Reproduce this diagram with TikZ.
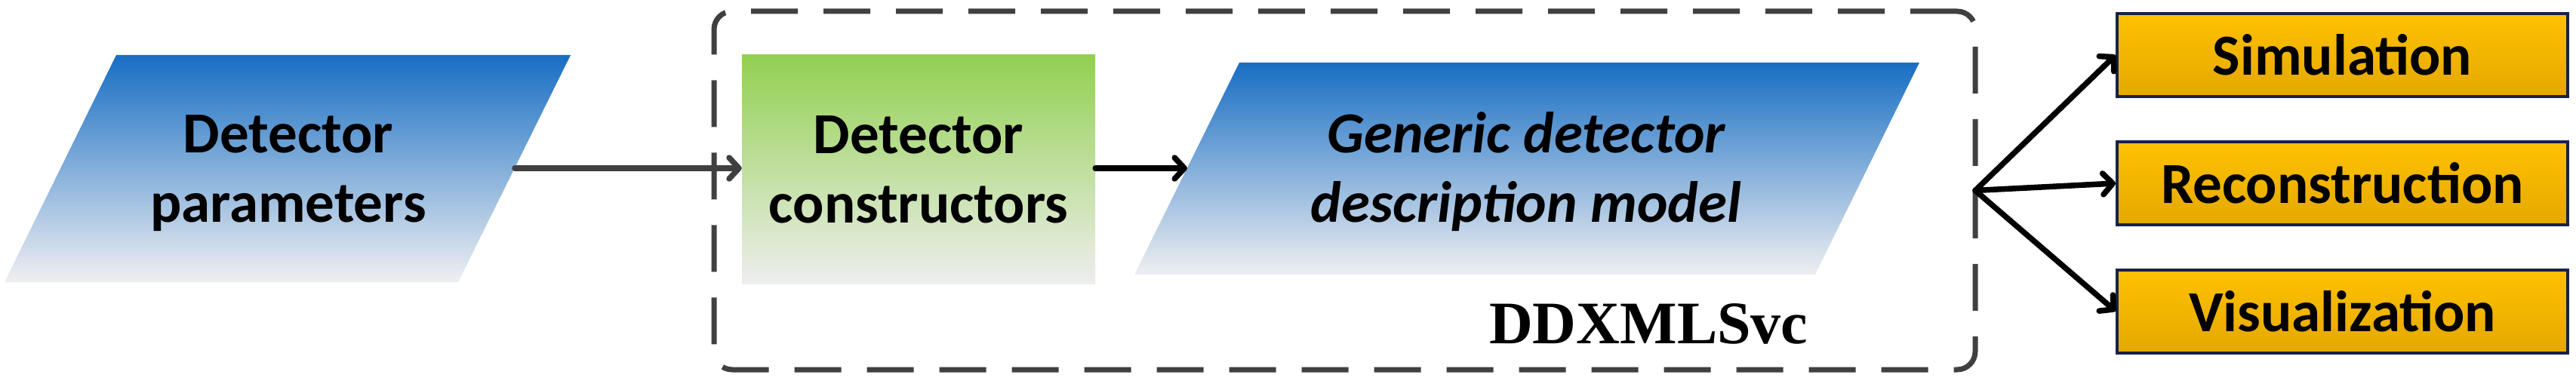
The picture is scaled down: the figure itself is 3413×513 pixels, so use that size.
\documentclass[tikz,border=0pt]{standalone}
\usepackage{fontspec}
\setmainfont{Carlito}
\newfontfamily\timesfont{Liberation Serif}
\usetikzlibrary{arrows.meta}
\definecolor{pblue}{RGB}{24,110,195}
\definecolor{pmid}{RGB}{148,165,208}
\definecolor{pgray}{RGB}{239,239,241}
\definecolor{ggreen}{RGB}{146,208,80}
\definecolor{ggray}{RGB}{238,238,238}
\definecolor{ytop}{RGB}{255,193,0}
\definecolor{ybot}{RGB}{228,168,0}
\definecolor{ynavy}{RGB}{22,34,72}
\definecolor{dgray}{RGB}{64,64,64}
\begin{document}
\begin{tikzpicture}[x=1pt,y=-1pt,
  lbl/.style={font=\fontsize{77}{92}\selectfont\bfseries, align=center, inner sep=0pt},
  pshade/.style={top color=pblue, middle color=pmid, bottom color=pgray},
  conn/.style={line width=7.5pt, line cap=round,
    -{Straight Barb[length=13pt,width=28pt,line cap=round,line join=round]}},
  outbox/.style={draw=ynavy, line width=4pt, top color=ytop, bottom color=ybot,
    minimum width=597pt, minimum height=110pt, inner sep=0pt,
    font=\fontsize{77}{92}\selectfont\bfseries}]
\useasboundingbox (0,0) rectangle (3413,513);

% dashed service box
\node[draw=dgray, line width=7pt, dash pattern=on 62pt off 34pt, rounded corners=24pt,
  minimum width=1671pt, minimum height=475pt, inner sep=0pt, outer sep=0pt] (svc) at (1781.5,252.5) {};
\node[anchor=base west, inner sep=0pt, font=\timesfont\bfseries\fontsize{80}{96}\selectfont] (svclbl) at (1973,455) {DDXMLSvc};

% detector parameters
\shade[pshade] (154,73) -- (756,73) -- (607,374) -- (6,374) -- cycle;
\node[lbl] (dp) at (382,230) {Detector\\parameters};
\coordinate (dpout) at (682,223);

% detector constructors
\node[lbl, top color=ggreen, bottom color=ggray, minimum width=468pt, minimum height=303pt] (gc) at (1217,224.5) {Detector\\constructors};

% generic model
\shade[pshade] (1642,83) -- (2543,83) -- (2405,364) -- (1503,364) -- cycle;
\node[lbl, font=\fontsize{77}{92}\selectfont\bfseries\itshape] (gm) at (2022,228) {Generic detector\\description model};
\coordinate (gmin) at (1573,223);

% outputs
\node[outbox] (sim) at (3103.5,73) {Simulation};
\node[outbox] (rec) at (3103.5,243) {Reconstruction};
\node[outbox] (vis) at (3103.5,412.5) {Visualization};

% connectors
\draw[conn, dgray] (dpout) -- (dpout -| gc.west);
\draw[conn] (gc.east |- gmin) -- (gmin);
\coordinate (fan) at (svc.east);
\draw[conn] (fan) -- (sim.west);
\draw[conn] (fan) -- (rec.west);
\draw[conn] (fan) -- (vis.west);
\end{tikzpicture}
\end{document}
